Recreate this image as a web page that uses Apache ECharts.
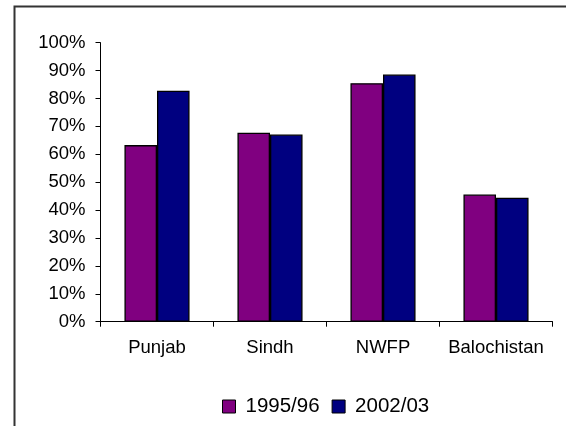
<!DOCTYPE html>
<html>
<head>
<meta charset="utf-8">
<script src="https://cdn.jsdelivr.net/npm/echarts@6/dist/echarts.min.js"></script>
<style>
html,body{margin:0;padding:0;background:#fff;}
#c{width:566px;height:426px;}
</style>
</head>
<body>
<div id="c"></div>
<script>
var categories = ['Punjab', 'Sindh', 'NWFP', 'Balochistan'];
var series1995 = [63.3, 67.7, 85.5, 45.6];
var series2002 = [82.8, 67.1, 88.6, 44.4];
var seriesNames = ['1995/96', '2002/03'];
var yTicks = [0, 10, 20, 30, 40, 50, 60, 70, 80, 90, 100];

var chart = echarts.init(document.getElementById('c'), null, {renderer: 'canvas'});
var font = 'Liberation Sans, Arial, sans-serif';
chart.setOption({
  animation: false,
  backgroundColor: '#ffffff',
  graphic: [{
    type: 'rect',
    shape: {x: 14.5, y: 6.5, width: 700, height: 600},
    style: {fill: 'none', stroke: '#333333', lineWidth: 2},
    silent: true
  }],
  grid: {left: 100.5, right: 13.5, top: 42.7, bottom: 104.3, containLabel: false},
  legend: {
    data: seriesNames,
    bottom: 4,
    left: 217,
    itemWidth: 13,
    itemHeight: 13,
    itemGap: 12,
    icon: 'rect',
    textStyle: {fontFamily: font, fontSize: 20.5, color: '#000', padding: [0, 0, 0, 5]},
    itemStyle: {borderColor: '#000', borderWidth: 1}
  },
  xAxis: {
    type: 'category',
    data: categories,
    axisLine: {lineStyle: {color: '#000', width: 1}},
    axisTick: {show: true, length: 5, interval: 0, lineStyle: {color: '#000'}},
    axisLabel: {fontFamily: font, fontSize: 18.5, color: '#000', margin: 17, interval: 0}
  },
  yAxis: {
    type: 'value',
    min: yTicks[0],
    max: yTicks[yTicks.length - 1],
    interval: 10,
    axisLine: {show: true, lineStyle: {color: '#000', width: 1}},
    axisTick: {show: true, length: 5, lineStyle: {color: '#000'}},
    splitLine: {show: false},
    axisLabel: {fontFamily: font, fontSize: 18.5, color: '#000', margin: 15, formatter: '{value}%'}
  },
  series: [{
    name: seriesNames[0],
    type: 'bar',
    data: series1995,
    barGap: '0%',
    barCategoryGap: '42.4%',
    itemStyle: {color: '#800080', borderColor: '#000', borderWidth: 1.3}
  }, {
    name: seriesNames[1],
    type: 'bar',
    data: series2002,
    barGap: '0%',
    barCategoryGap: '42.4%',
    itemStyle: {color: '#000080', borderColor: '#000', borderWidth: 1.3}
  }]
});
</script>
</body>
</html>
